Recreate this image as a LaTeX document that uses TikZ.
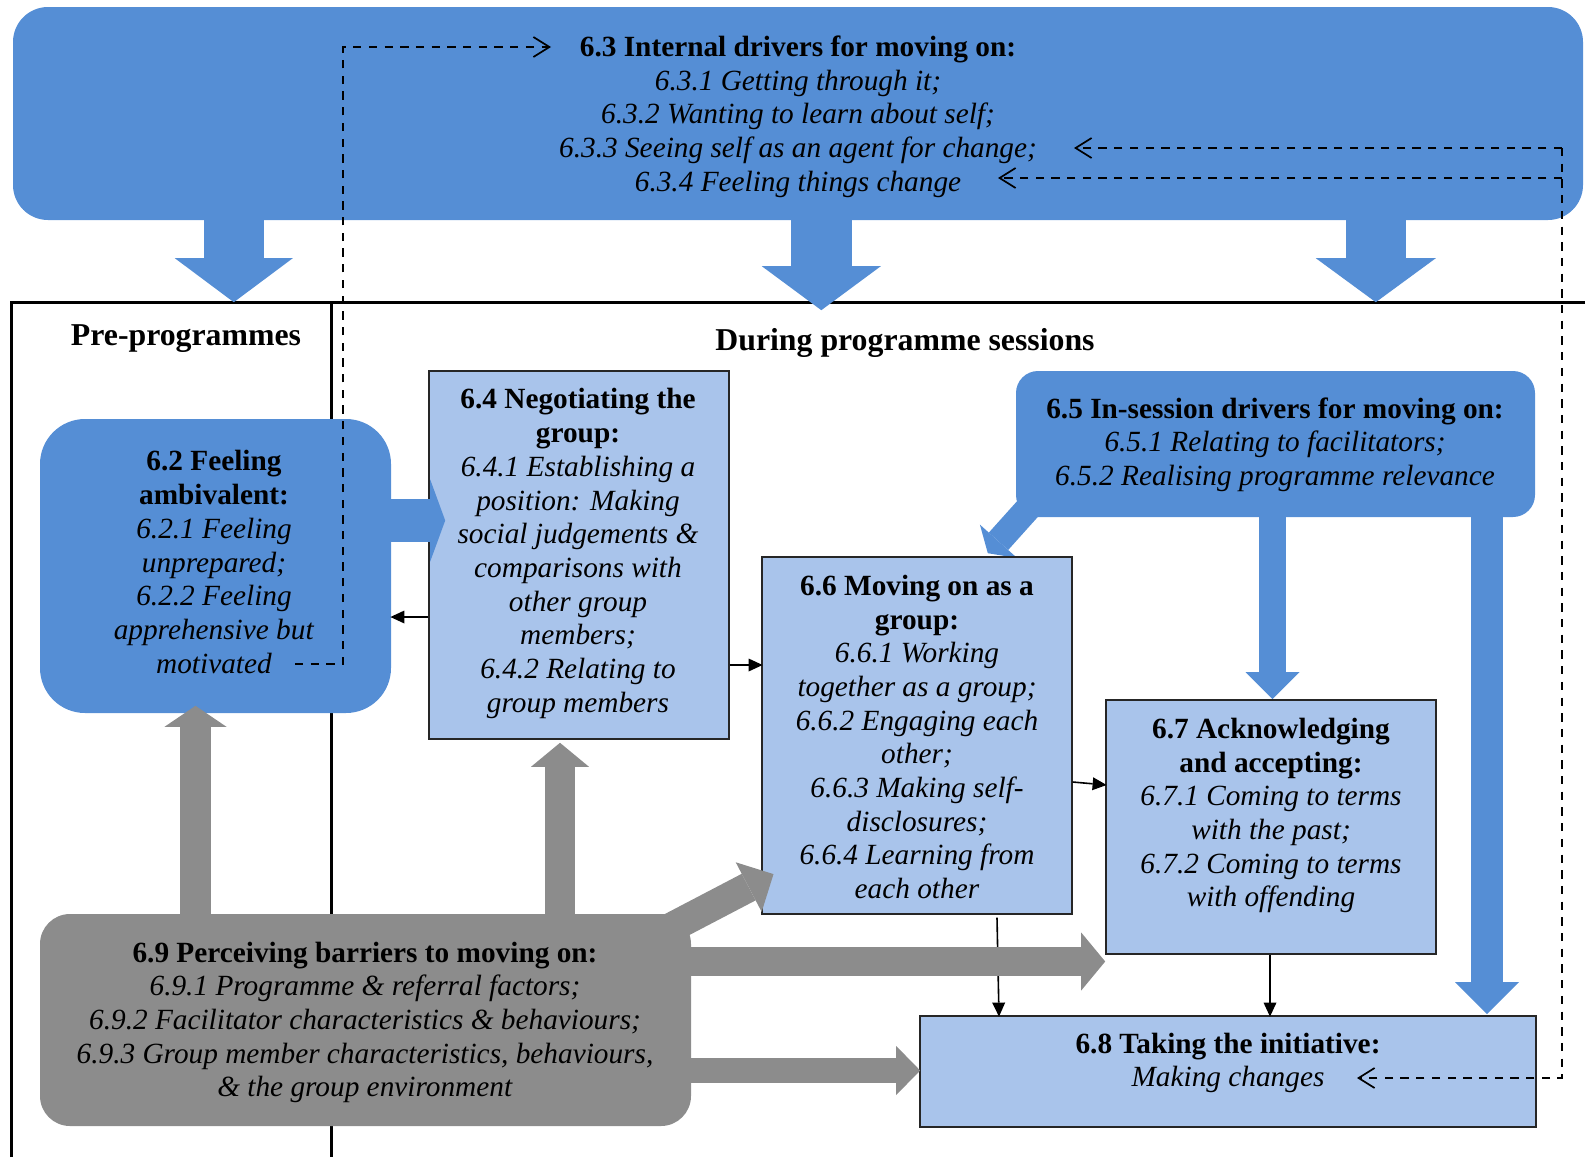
\documentclass[tikz,border=0pt]{standalone}
\usepackage{fontspec}
\setmainfont{Liberation Serif}
\usetikzlibrary{arrows.meta,calc}

\definecolor{driverblue}{HTML}{558ED5}
\definecolor{stageblue}{HTML}{A9C4EB}
\definecolor{barriergray}{HTML}{8C8C8C}

\tikzset{
  body/.style={font=\fontsize{29.3}{33.7}\selectfont, align=center, inner sep=0pt},
  heading/.style={font=\fontsize{31.8}{36}\selectfont\bfseries, inner sep=0pt},
  stagebox/.style={draw=black!85, line width=1.2pt, fill=stageblue, inner sep=0pt},
  driverbox/.style={fill=driverblue, inner sep=0pt},
  barrierbox/.style={fill=barriergray, inner sep=0pt},
  panel/.style={line width=3pt, draw=black},
  thinarrow/.style={line width=1.6pt, -{Triangle[length=14pt,width=13pt,line width=0pt]}},
  feedback/.style={line width=1.7pt, dash pattern=on 8.3pt off 7.4pt},
  feedbackarrow/.style={feedback, -{Straight Barb[length=16pt,width=20pt]}},
}

\begin{document}
\begin{tikzpicture}[x=1pt,y=-1pt]
\useasboundingbox (0,0) rectangle (1585,1157);

% panels: pre-programme and in-session columns
\coordinate (panelTL) at (11,302);
\coordinate (panelTR) at (1585,302);
\coordinate (panelBL) at (11,1157);
\coordinate (panelTM) at (331,302);
\coordinate (panelBM) at (331,1157);
\draw[panel] (panelBL) -- (panelTL) -- (panelTR);
\draw[panel] (panelTM) -- (panelBM);

\node[heading] (pre) at (186,339) {Pre-programmes};
\node[heading] (during) at (905,343) {During programme sessions};

% internal drivers banner
\node[driverbox, rounded corners=35pt, minimum width=1570pt, minimum height=213pt] (n63) at (798,113.5) {};

\draw[driverblue, line width=60pt, -{Triangle[width=118pt,length=44pt,line width=0pt]}]
  ([xshift=221pt,yshift=1pt]n63.south west) -- ++(0,83);
\draw[driverblue, line width=61pt, -{Triangle[width=119pt,length=44pt,line width=0pt]}]
  ([xshift=808.5pt,yshift=1pt]n63.south west) -- ++(0,91);
\draw[driverblue, line width=60pt, -{Triangle[width=120pt,length=44pt,line width=0pt]}]
  ([xshift=1363pt,yshift=1pt]n63.south west) -- ++(0,83);

% blue driver boxes and grey barrier box
\node[driverbox, rounded corners=45pt, minimum width=351pt, minimum height=294pt] (n62) at (215.5,566) {};
\node[driverbox, rounded corners=22pt, minimum width=519pt, minimum height=146pt] (n65) at (1275.5,444) {};
\node[barrierbox, rounded corners=30pt, minimum width=651pt, minimum height=212pt] (n69) at (365.5,1020) {};

% in-session drivers feeding stages
\draw[driverblue, line width=26pt, -{Triangle[width=50pt,length=16pt,line width=0pt]}]
  ([xshift=16pt,yshift=13pt]n65.south west) -- ++(-44,49);
\draw[driverblue, line width=27pt, -{Triangle[width=54pt,length=27pt,line width=0pt]}]
  ([xshift=-3pt,yshift=1pt]n65.south) -- ++(0,183);
\draw[driverblue, line width=32pt, -{Triangle[width=64pt,length=32pt,line width=0pt]}]
  ([xshift=211.5pt,yshift=1pt]n65.south) -- ++(0,498);

% stage boxes
\node[stagebox, minimum width=300pt, minimum height=368pt] (n64) at (579,555) {};
\node[stagebox, minimum width=310pt, minimum height=357pt] (n66) at (917,735.5) {};
\node[stagebox, minimum width=330pt, minimum height=254pt] (n67) at (1271,827) {};
\node[stagebox, minimum width=616pt, minimum height=111pt] (n68) at (1228,1071.5) {};

% feeling ambivalent -> negotiating the group
\draw[driverblue, line width=43pt, -{Triangle[width=82pt,length=15pt,line width=0pt]}]
  ([xshift=-5pt,yshift=45.5pt]n62.east) -- ++(59,0);

% thin connectors between stages
\draw[thinarrow] ([yshift=-62pt]n64.west) -- ++(-38,0);
\draw[thinarrow] ([yshift=-110pt]n64.east) -- ++(33,0);
\draw[thinarrow] ([yshift=-46.5pt]n66.east) -- ++(34,3);
\draw[thinarrow] ([xshift=80pt,yshift=-3pt]n66.south) -- ++(2,99);
\draw[thinarrow] ([xshift=-1pt]n67.south) -- ++(0,62);

% barriers acting on each stage
\draw[barriergray, line width=31pt, -{Triangle[width=62pt,length=21pt,line width=0pt]}]
  ([xshift=-170pt,yshift=-2pt]n69.north) -- ++(0,-210);
\draw[barriergray, line width=30pt, -{Triangle[width=58pt,length=24pt,line width=0pt]}]
  ([xshift=194.5pt,yshift=-2pt]n69.north) -- ++(0,-173);
\draw[barriergray, line width=30pt, -{Triangle[width=56pt,length=28pt,line width=0pt]}]
  ([xshift=-41pt,yshift=-24.8pt]n69.north east) -- ++(123.3,-64.5);
\draw[barriergray, line width=29pt, -{Triangle[width=58pt,length=24pt,line width=0pt]}]
  ([xshift=-5pt,yshift=58.5pt]n69.east) -- ++(419,0);
\draw[barriergray, line width=25pt, -{Triangle[width=49pt,length=24pt,line width=0pt]}]
  ([xshift=-5pt,yshift=-50.5pt]n69.east) -- ++(234,0);

% box texts
\node[body] (t63) at (798,116.5) {\textbf{6.3 Internal drivers for moving on:}\\
  \textit{6.3.1 Getting through it;}\\
  \textit{6.3.2 Wanting to learn about self;}\\
  \textit{6.3.3 Seeing self as an agent for change;}\\
  \textit{6.3.4 Feeling things change}};
\node[body] (t62) at (214,562) {\textbf{6.2 Feeling}\\ \textbf{ambivalent:}\\
  \textit{6.2.1 Feeling}\\ \textit{unprepared;}\\ \textit{6.2.2 Feeling}\\
  \textit{apprehensive but}\\ \textit{motivated}};
\node[body] (t64) at (578,553.5) {\textbf{6.4 Negotiating the}\\ \textbf{group:}\\
  \textit{6.4.1 Establishing a}\\ \textit{position: Making}\\
  \textit{social judgements \&}\\ \textit{comparisons with}\\
  \textit{other group}\\ \textit{members;}\\
  \textit{6.4.2 Relating to}\\ \textit{group members}};
\node[body] (t65) at (1275,444.5) {\textbf{6.5 In-session drivers for moving on:}\\
  \textit{6.5.1 Relating to facilitators;}\\
  \textit{6.5.2 Realising programme relevance}};
\node[body] (t66) at (917,737) {\textbf{6.6 Moving on as a}\\ \textbf{group:}\\
  \textit{6.6.1 Working}\\ \textit{together as a group;}\\
  \textit{6.6.2 Engaging each}\\ \textit{other;}\\
  \textit{6.6.3 Making self-}\\ \textit{disclosures;}\\
  \textit{6.6.4 Learning from}\\ \textit{each other}};
\node[body] (t67) at (1271,815.5) {\textbf{6.7 Acknowledging}\\ \textbf{and accepting:}\\
  \textit{6.7.1 Coming to terms}\\ \textit{with the past;}\\
  \textit{6.7.2 Coming to terms}\\ \textit{with offending}};
\node[body] (t68) at (1228,1063) {\textbf{6.8 Taking the initiative:}\\
  \textit{Making changes}};
\node[body] (t69) at (365,1022.5) {\textbf{6.9 Perceiving barriers to moving on:}\\
  \textit{6.9.1 Programme \& referral factors;}\\
  \textit{6.9.2 Facilitator characteristics \& behaviours;}\\
  \textit{6.9.3 Group member characteristics, behaviours,}\\
  \textit{\& the group environment}};

% feedback loops (dashed)
\coordinate (fbA0) at (295,664);
\coordinate (fbA1) at (343,664);
\coordinate (fbA2) at (343,47);
\coordinate (fbA3) at (551,47);
\draw[feedbackarrow] (fbA0) -- (fbA1) -- (fbA2) -- (fbA3);

\coordinate (fbTop) at (1562,148);
\coordinate (fbMid) at (1562,178);
\coordinate (fbBot) at (1562,1078);
\coordinate (fbSelf) at (1074,148);
\coordinate (fbChange) at (998,178);
\coordinate (fbMake) at (1357,1078);
\draw[feedbackarrow] (fbTop) -- (fbSelf);
\draw[feedbackarrow] (fbMid) -- (fbChange);
\draw[feedbackarrow] (fbTop) -- (fbBot) -- (fbMake);
\end{tikzpicture}
\end{document}
